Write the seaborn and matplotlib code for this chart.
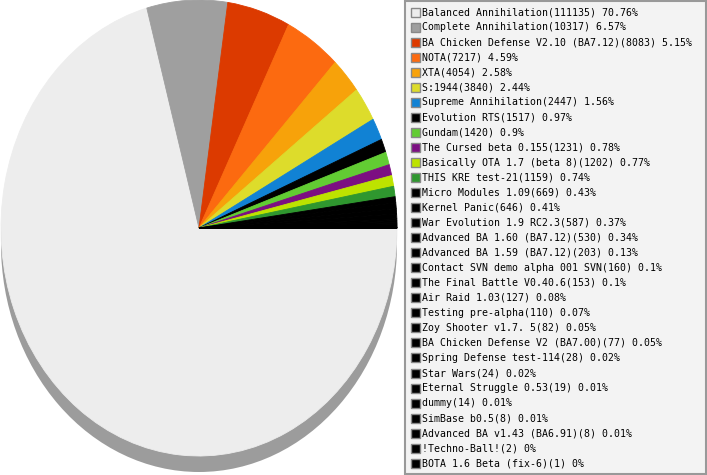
import numpy as np
import matplotlib
matplotlib.use("Agg")
import matplotlib.pyplot as plt
from matplotlib.patches import Ellipse, Rectangle
import seaborn as sns

# Mod usage counts
mods = [
    "Balanced Annihilation", "Complete Annihilation",
    "BA Chicken Defense V2.10 (BA7.12)", "NOTA", "XTA", "S:1944",
    "Supreme Annihilation", "Evolution RTS", "Gundam", "The Cursed beta 0.155",
    "Basically OTA 1.7 (beta 8)", "THIS KRE test-21", "Micro Modules 1.09",
    "Kernel Panic", "War Evolution 1.9 RC2.3", "Advanced BA 1.60 (BA7.12)",
    "Advanced BA 1.59 (BA7.12)", "Contact SVN demo alpha 001 SVN",
    "The Final Battle V0.40.6", "Air Raid 1.03", "Testing pre-alpha",
    "Zoy Shooter v1.7. 5", "BA Chicken Defense V2 (BA7.00)",
    "Spring Defense test-114", "Star Wars", "Eternal Struggle 0.53", "dummy",
    "SimBase b0.5", "Advanced BA v1.43 (BA6.91)", "!Techno-Ball!",
    "BOTA 1.6 Beta (fix-6)",
]
counts = [
    111135, 10317, 8083, 7217, 4054, 3840, 2447, 1517, 1420, 1231,
    1202, 1159, 669, 646, 587, 530, 203, 160, 153, 127,
    110, 82, 77, 28, 24, 19, 14, 8, 8, 2, 1,
]
top_colors = [
    "#ededed", "#9f9f9f", "#dc3a00", "#fc6a10", "#f7a20a", "#dddc2b",
    "#1182d4", "#000000", "#62cc33", "#7c0f82", "#bde300", "#2f972f",
]
colors = sns.color_palette(top_colors + ["#000000"] * (len(counts) - len(top_colors)))

sns.set_style("white")

W, H = 707, 475
fig = plt.figure(figsize=(W / 100, H / 100), dpi=100)

# pie is drawn as an ellipse: its axes spans the ellipse bounding box
px0, px1, py0, py1 = 1, 397, 0, 456
ax = fig.add_axes([px0 / W, (H - py1) / H, (px1 - px0) / W, (py1 - py0) / H])
wedges, _ = ax.pie(counts, colors=colors, startangle=0, counterclock=False,
                   wedgeprops=dict(linewidth=0.6))
for w in wedges:
    # same-colour edge hides the hairline seams between wedges
    w.set_edgecolor(w.get_facecolor())
ax.set_aspect("auto")
ax.set_xlim(-1, 1)
ax.set_ylim(-1, 1)
ax.axis("off")
shadow_dy = 16 / ((py1 - py0) / 2)
ax.add_patch(Ellipse((0, -shadow_dy), 2, 2, facecolor="#9c9c9c",
                     edgecolor="none", zorder=0, clip_on=False))

# legend in pixel coordinates
lg = fig.add_axes([0, 0, 1, 1], facecolor="none")
lg.set_xlim(0, W)
lg.set_ylim(H, 0)
lg.axis("off")
lg.add_patch(Rectangle((405, 1), 301, 473, facecolor="#f3f3f3",
                       edgecolor="#999999", linewidth=1.5))

total = sum(counts)
row0, step = 12.3, 15.03
for i, (name, n) in enumerate(zip(mods, counts)):
    pct = round(n / total * 100, 2)
    y = row0 + i * step
    lg.add_patch(Rectangle((410.5, y - 4.5), 9, 9, facecolor=colors[i],
                           edgecolor="#888888", linewidth=1))
    lg.text(422, y, f"{name}({n}) {pct:g}%", va="center", ha="left",
            fontsize=7.1, family="DejaVu Sans Mono", color="#000000")

fig.savefig("out.png", dpi=100)
